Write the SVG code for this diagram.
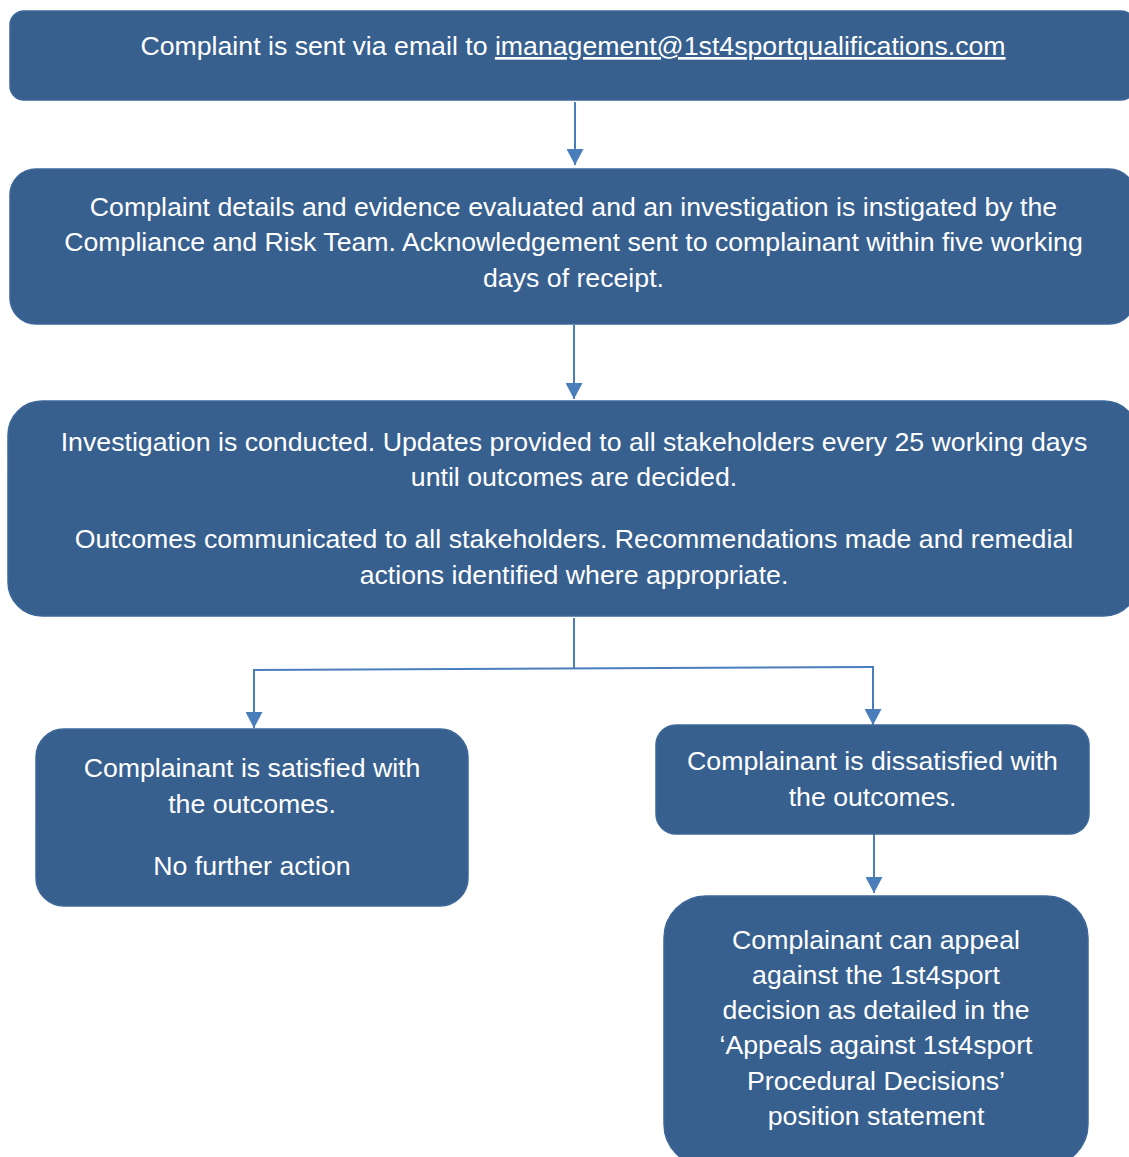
<svg xmlns="http://www.w3.org/2000/svg" width="1129" height="1157" viewBox="0 0 1129 1157">
<defs>
<style>
.box{fill:#37608f;stroke:#3d6798;stroke-width:1.5}
.t{font-family:"Liberation Sans",Arial,sans-serif;font-size:26.7px;fill:#ffffff;text-anchor:middle}
.c{fill:none;stroke:#4a7ebb;stroke-width:2}
</style>
<marker id="ad" markerUnits="userSpaceOnUse" markerWidth="17" markerHeight="17" viewBox="0 0 17 17" refX="16" refY="8.5" orient="auto">
<path d="M0,0 L16,8.5 L0,17 Z" fill="#4a7ebb"/>
</marker>
</defs>
<rect width="1129" height="1157" fill="#ffffff"/>
<g id="connectors">
<line class="c" x1="575" y1="102" x2="575" y2="165" marker-end="url(#ad)"/>
<line class="c" x1="574" y1="325" x2="574" y2="399" marker-end="url(#ad)"/>
<line class="c" x1="574" y1="618" x2="574" y2="669"/>
<polyline class="c" points="254,670 873,667"/>
<line class="c" x1="254" y1="669" x2="254" y2="728" marker-end="url(#ad)"/>
<line class="c" x1="873" y1="666" x2="873" y2="725" marker-end="url(#ad)"/>
<line class="c" x1="874" y1="834" x2="874" y2="893" marker-end="url(#ad)"/>
</g>
<g id="n1">
<rect class="box" x="10" y="11" width="1125" height="89" rx="14"/>
<text class="t" x="573" y="55">Complaint is sent via email to <tspan text-decoration="underline">imanagement@1st4sportqualifications.com</tspan></text>
</g>
<g id="n2">
<rect class="box" x="10" y="169" width="1125" height="155" rx="26"/>
<text class="t" x="573.5" y="216">Complaint details and evidence evaluated and an investigation is instigated by the</text>
<text class="t" x="573.5" y="251">Compliance and Risk Team. Acknowledgement sent to complainant within five working</text>
<text class="t" x="573.5" y="287">days of receipt.</text>
</g>
<g id="n3">
<rect class="box" x="8" y="401" width="1130" height="215" rx="34"/>
<text class="t" x="574" y="451">Investigation is conducted. Updates provided to all stakeholders every 25 working days</text>
<text class="t" x="574" y="486">until outcomes are decided.</text>
<text class="t" x="574" y="548">Outcomes communicated to all stakeholders. Recommendations made and remedial</text>
<text class="t" x="574" y="584">actions identified where appropriate.</text>
</g>
<g id="n4">
<rect class="box" x="36" y="729" width="432" height="177" rx="28"/>
<text class="t" x="252" y="777">Complainant is satisfied with</text>
<text class="t" x="252" y="813">the outcomes.</text>
<text class="t" x="252" y="875">No further action</text>
</g>
<g id="n5">
<rect class="box" x="656" y="725" width="433" height="109" rx="20"/>
<text class="t" x="872.5" y="770">Complainant is dissatisfied with</text>
<text class="t" x="872.5" y="806">the outcomes.</text>
</g>
<g id="n6">
<rect class="box" x="664" y="896" width="424" height="270" rx="42"/>
<text class="t" x="876" y="949">Complainant can appeal</text>
<text class="t" x="876" y="984">against the 1st4sport</text>
<text class="t" x="876" y="1019">decision as detailed in the</text>
<text class="t" x="876" y="1054">‘Appeals against 1st4sport</text>
<text class="t" x="876" y="1090">Procedural Decisions’</text>
<text class="t" x="876" y="1125">position statement</text>
</g>
</svg>
